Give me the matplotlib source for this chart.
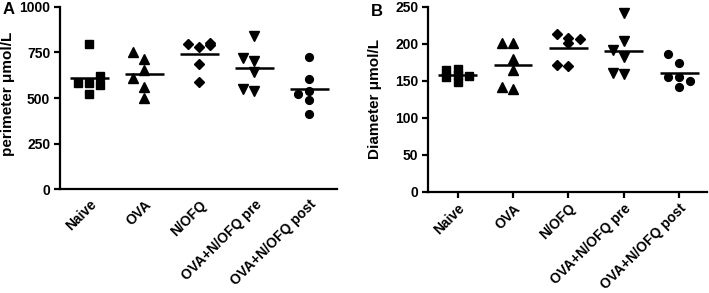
import numpy as np
import matplotlib
matplotlib.use("Agg")
import matplotlib.pyplot as plt

plt.rcParams['font.family'] = ['Liberation Sans', 'DejaVu Sans']
plt.rcParams['font.weight'] = 'bold'

groups = ['Naive', 'OVA', 'N/OFQ', 'OVA+N/OFQ pre', 'OVA+N/OFQ post']

# panel A - perimeter (umol/L), one list per group
perim_naive = [797, 580, 522, 580, 622, 571]
perim_ova = [712, 653, 562, 502, 754, 608]
perim_nofq = [778, 685, 586, 796, 803, 790]
perim_pre = [841, 703, 641, 538, 717, 549]
perim_post = [723, 602, 489, 412, 522, 540]

# panel B - diameter (umol/L)
diam_naive = [166, 149, 164, 156, 155, 158]
diam_ova = [179, 164, 139, 201, 201, 141]
diam_nofq = [201, 170, 213, 206, 208, 171]
diam_pre = [241, 204, 182, 192, 159, 161]
diam_post = [174, 141, 155, 186, 155, 150]

markers = ['s', '^', 'D', 'v', 'o']
msizes = [6.0, 6.8, 4.6, 6.8, 5.6]


def swarm_offsets(ax, vals, step, thresh):
    # greedy column placement: centre, then left, then right;
    # if every column is crowded take the least crowded one
    placed = []
    offs = []
    for v in vals:
        py = ax.transData.transform((0, v))[1]
        best, best_d = 0, -1
        for k in [0, -1, 1]:
            d = min([abs(qy - py) for (qx, qy) in placed if qx == k] + [1e9])
            if d >= thresh:
                best = k
                break
            if d > best_d:
                best, best_d = k, d
        placed.append((best, py))
        offs.append(best * step)
    return np.array(offs)


def draw_panel(ax, data, ylim, yticks, ylabel, show_xticks):
    ax.set_xlim(-0.533, 4.5)
    ax.set_ylim(*ylim)
    for i, vals in enumerate(data):
        offs = swarm_offsets(ax, vals, 0.2, 9.0)
        ax.plot(i + offs, vals, linestyle='none', marker=markers[i],
                ms=msizes[i], color='black', mec='black', clip_on=False)
        ax.hlines(np.mean(vals), i - 0.35, i + 0.35, color='black', lw=1.8)
    ax.set_yticks(yticks)
    ax.set_yticklabels([str(t) for t in yticks], fontsize=10, fontweight='bold')
    ax.set_xticks(range(len(groups)))
    ax.set_xticklabels(groups, rotation=45, ha='right', va='top',
                       rotation_mode='anchor', fontsize=10, fontweight='bold')
    ax.spines['top'].set_visible(False)
    ax.spines['right'].set_visible(False)
    ax.spines['left'].set_linewidth(1.6)
    ax.spines['bottom'].set_linewidth(1.6)
    ax.tick_params(axis='y', length=4, width=1.6, pad=3)
    if show_xticks:
        ax.tick_params(axis='x', length=4, width=1.6, pad=3)
    else:
        ax.tick_params(axis='x', length=0, pad=6)
    ax.set_ylabel(ylabel, fontsize=11, fontweight='bold')


fig = plt.figure(figsize=(7.09, 2.93), dpi=100)
axA = fig.add_axes([0.0846, 0.354, 0.3907, 0.623])
axB = fig.add_axes([0.6037, 0.3457, 0.3935, 0.631])

draw_panel(axA, [perim_naive, perim_ova, perim_nofq, perim_pre, perim_post],
           (0, 1000), [0, 250, 500, 750, 1000], 'perimeter \u03bcmol/L', False)
draw_panel(axB, [diam_naive, diam_ova, diam_nofq, diam_pre, diam_post],
           (0, 250), [0, 50, 100, 150, 200, 250], 'Diameter \u03bcmol/L', True)

axA.yaxis.set_label_coords(-0.163, 0.52)
axB.yaxis.set_label_coords(-0.165, 0.5)

fig.text(0.004, 0.966, 'A', fontsize=12, fontweight='bold', va='center')
fig.text(0.523, 0.962, 'B', fontsize=12, fontweight='bold', va='center')

fig.savefig('out.png', dpi=100)
